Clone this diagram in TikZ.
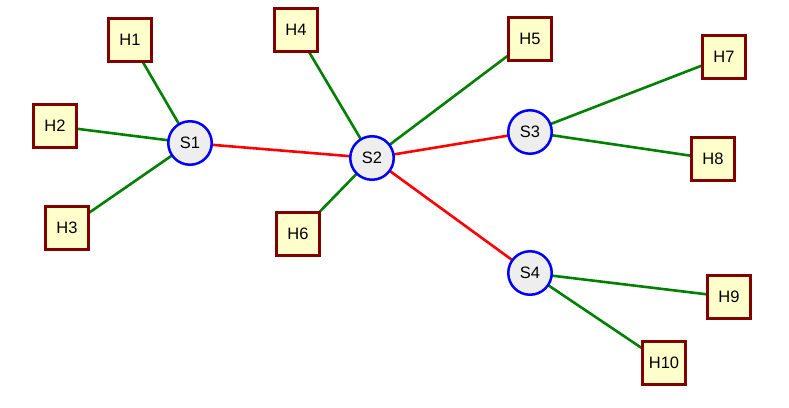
\documentclass[tikz,border=0pt]{standalone}
\usepackage{fontspec}
\setmainfont{Liberation Sans}
\definecolor{hostfill}{HTML}{FFFFCC}
\definecolor{hostdraw}{HTML}{800000}
\definecolor{swfill}{HTML}{EEEEEE}
\definecolor{swdraw}{HTML}{0000FF}
\definecolor{hlink}{HTML}{008000}
\definecolor{slink}{HTML}{FF0000}
\begin{document}
\begin{tikzpicture}[x=1pt,y=-1pt,
  host/.style={draw=hostdraw,fill=hostfill,line width=3pt,minimum size=43pt,inner sep=0pt,font=\fontsize{16.5}{19}\selectfont},
  switch/.style={circle,draw=swdraw,fill=swfill,line width=2.5pt,minimum size=43.5pt,inner sep=0pt,font=\fontsize{16.5}{19}\selectfont},
  hl/.style={draw=hlink,line width=2.6pt},
  sl/.style={draw=slink,line width=2.6pt}]
\useasboundingbox (0,0) rectangle (789,407);
\fill[white] (0,0) rectangle (789,407);
\coordinate (pS1) at (190,143);
\coordinate (pS2) at (372,158);
\coordinate (pS3) at (530,132);
\coordinate (pS4) at (530,273);
\coordinate (pH1) at (130,40);
\coordinate (pH2) at (55,126);
\coordinate (pH3) at (67,228);
\coordinate (pH4) at (296,30);
\coordinate (pH5) at (530,39);
\coordinate (pH6) at (298,234);
\coordinate (pH7) at (724,57);
\coordinate (pH8) at (713,159);
\coordinate (pH9) at (729,297);
\coordinate (pH10) at (664,363);
% links
\draw[hl] (pH1) -- (pS1);
\draw[hl] (pH2) -- (pS1);
\draw[hl] (pH3) -- (pS1);
\draw[hl] (pH4) -- (pS2);
\draw[hl] (pH5) -- (pS2);
\draw[hl] (pH6) -- (pS2);
\draw[hl] (pH7) -- (pS3);
\draw[hl] (pH8) -- (pS3);
\draw[hl] (pH9) -- (pS4);
\draw[hl] (pH10) -- (pS4);
\draw[sl] (pS1) -- (pS2);
\draw[sl] (pS2) -- (pS3);
\draw[sl] (pS2) -- (pS4);
% nodes
\node[switch] (S1) at (pS1) {S1};
\node[switch] (S2) at (pS2) {S2};
\node[switch] (S3) at (pS3) {S3};
\node[switch] (S4) at (pS4) {S4};
\node[host] (H1) at (pH1) {H1};
\node[host] (H2) at (pH2) {H2};
\node[host] (H3) at (pH3) {H3};
\node[host] (H4) at (pH4) {H4};
\node[host] (H5) at (pH5) {H5};
\node[host] (H6) at (pH6) {H6};
\node[host] (H7) at (pH7) {H7};
\node[host] (H8) at (pH8) {H8};
\node[host] (H9) at (pH9) {H9};
\node[host] (H10) at (pH10) {H10};
\end{tikzpicture}
\end{document}
